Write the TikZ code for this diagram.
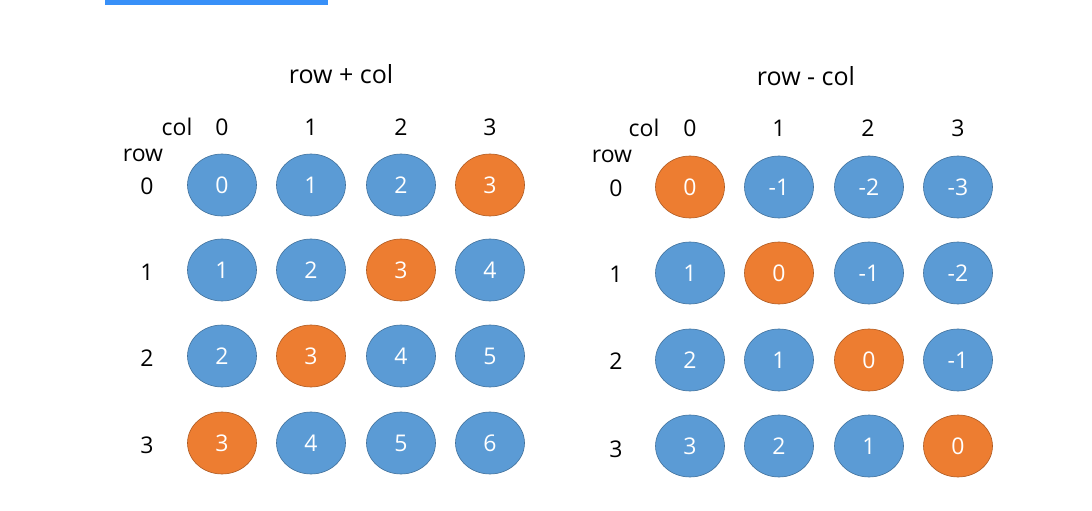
\documentclass[tikz,border=0pt]{standalone}
\usepackage{fontspec}
\setmainfont{Open Sans}
\usetikzlibrary{shapes.geometric}
\definecolor{bbar}{RGB}{56,144,248}
\definecolor{cblue}{RGB}{91,155,213}
\definecolor{cblueb}{RGB}{65,113,156}
\definecolor{corange}{RGB}{237,125,49}
\definecolor{coranb}{RGB}{174,90,33}
\tikzset{
  cell/.style={ellipse, minimum width=69pt, minimum height=62pt, inner sep=0pt,
    line width=0.6pt, text=white, font=\fontsize{23}{23}\selectfont},
  bcell/.style={cell, fill=cblue, draw=cblueb},
  ocell/.style={cell, fill=corange, draw=coranb},
  lab/.style={inner sep=0pt, font=\fontsize{23}{23}\selectfont, text=black},
  ttl/.style={inner sep=0pt, font=\fontsize{25}{25}\selectfont, text=black}
}
\begin{document}
\begin{tikzpicture}[x=1pt,y=-1pt]
\useasboundingbox[fill=white] (0,0) rectangle (1092,511);
\fill[bbar] (105,0) rectangle (328,5);
% left grid
\node[ttl] (t1) at (341,74) {row + col};
\node[lab] (c1) at (177,127) {col};
\node[lab] (r1) at (143,155) {row};
\foreach \x [count=\i from 0] in {222,311,401,490} {
  \node[lab] (lc\i) at (\x,127) {\i};
}
\foreach \y [count=\j from 0] in {186,272,358,445} {
  \node[lab] (lr\j) at (147,\y) {\j};
}
\foreach \x [count=\i from 0] in {222,311,401,490} {
  \foreach \y [count=\j from 0] in {185,270,356,443} {
    \pgfmathtruncatemacro{\s}{\i+\j}
    \ifnum\s=3
      \node[ocell] (L\j\i) at (\x,\y) {\s};
    \else
      \node[bcell] (L\j\i) at (\x,\y) {\s};
    \fi
  }
}
% right grid
\node[ttl] (t2) at (806,76) {row - col};
\node[lab] (c2) at (644,128) {col};
\node[lab] (r2) at (612,156) {row};
\foreach \x [count=\i from 0] in {690,779,868,958} {
  \node[lab] (rc\i) at (\x,128) {\i};
}
\foreach \y [count=\j from 0] in {188,274,361,449} {
  \node[lab] (rr\j) at (616,\y) {\j};
}
\foreach \x [count=\i from 0] in {690,779,869,958} {
  \foreach \y [count=\j from 0] in {187,273,360,446} {
    \pgfmathtruncatemacro{\s}{\j-\i}
    \ifnum\s=0
      \node[ocell] (R\j\i) at (\x,\y) {\s};
    \else
      \node[bcell] (R\j\i) at (\x,\y) {\s};
    \fi
  }
}
\end{tikzpicture}
\end{document}
